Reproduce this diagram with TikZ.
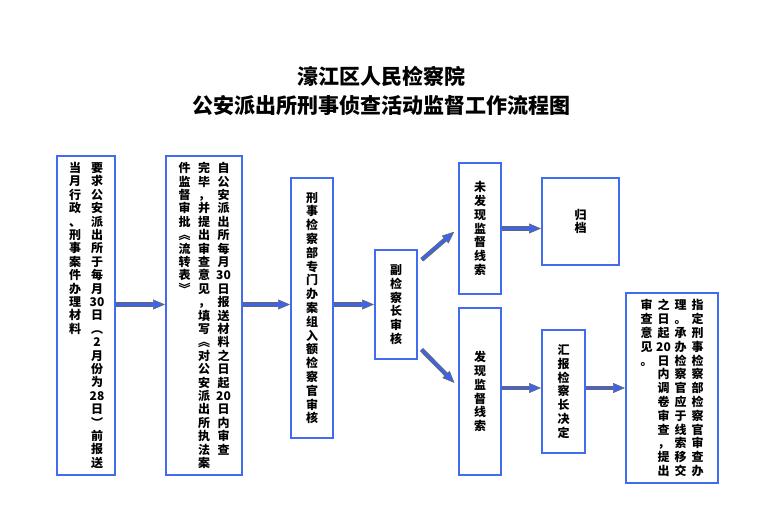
\documentclass[tikz,border=0pt]{standalone}
\usepackage{fontspec}
\usepackage{tikz}
\usetikzlibrary{arrows.meta}
\newfontfamily\cjk{Noto Sans CJK SC}
\definecolor{boxblue}{RGB}{66,108,238}
\definecolor{arrowblue}{RGB}{60,100,235}
\makeatletter
\newcommand\vcol[2][13.8pt]{\vtop{\baselineskip=#1\@tfor\vch:=#2\do{\hbox to 14pt{\hss\vch\hss}}}}
\makeatother
\begin{document}
\begin{tikzpicture}[x=1pt, y=-1pt,
  box/.style = {draw=boxblue, line width=2pt, inner sep=0pt, font=\cjk\bfseries\fontsize{12}{14}\selectfont},
  flow/.style = {draw=black!60, line width=4.5pt, -{Triangle[length=12pt,width=10pt,fill=arrowblue,line width=0.6pt]},
    postaction={draw=arrowblue, line width=2.6pt, shorten >=11pt, arrows=-}}]
\useasboundingbox (0,0) rectangle (765,529);

\node[align=center, font=\cjk\bfseries\fontsize{21}{29.5}\selectfont] (t) at (381,91)
  {濠江区人民检察院\\公安派出所刑事侦查活动监督工作流程图};

\node[box, minimum width=58, minimum height=319] (1) at (86,315.5)
  {\vcol[13.4pt]{当月行政、刑事案件办理材料}\hskip8pt\vcol[13.4pt]{要求公安派出所于每月{30}日︵2月份为{28}日︶前报送}};
\node[box, minimum width=76, minimum height=319] (2) at (204,315.5)
  {\vcol[13.4pt]{件监督审批︽流转表︾}\hskip5.5pt\vcol[13.4pt]{完毕，并提出审查意见，填写︽对公安派出所执法案}\hskip5.5pt\vcol[13.4pt]{自公安派出所每月{30}日报送材料之日起{20}日内审查}};
\node[box, minimum width=42, minimum height=260] (3) at (312,308) {\vcol{刑事检察部专门办案组入额检察官审核}};
\node[box, minimum width=42, minimum height=109] (4) at (396,304.5) {\vcol{副检察长审核}};
\node[box, minimum width=42, minimum height=131] (5) at (480,228.5) {\vcol{未发现监督线索}};
\node[box, minimum width=77, minimum height=87] (6) at (580.5,221.5) {\vcol{归档}};
\node[box, minimum width=42, minimum height=167] (7) at (480,391.5) {\vcol{发现监督线索}};
\node[box, minimum width=43, minimum height=123] (8) at (563.5,391.5) {\vcol{汇报检察长决定}};
\node[box, minimum width=92, minimum height=190] (9) at (672,388)
  {\vcol{审查意见。}\hskip3pt\vcol{之日起{20}日内调卷审查，提出}\hskip3pt\vcol{理。承办检察官应于线索移交}\hskip3pt\vcol{指定刑事检察部检察官审查办}};

\draw[flow] (1.east |- 4) -- (2.west |- 4);
\draw[flow] (2.east |- 4) -- (3.west |- 4);
\draw[flow] (3.east |- 4) -- (4.west);
\draw[flow, shorten <=5pt, shorten >=5pt] ([yshift=-14pt]4.north east) -- (5.west);
\draw[flow, shorten <=5pt, shorten >=5pt] ([yshift=14pt]4.south east) -- ([yshift=5pt]7.west);
\draw[flow] (5.east) -- (5.east -| 6.west);
\draw[flow] (7.east |- 9) -- (8.west |- 9);
\draw[flow] (8.east |- 9) -- (9.west);
\end{tikzpicture}
\end{document}
